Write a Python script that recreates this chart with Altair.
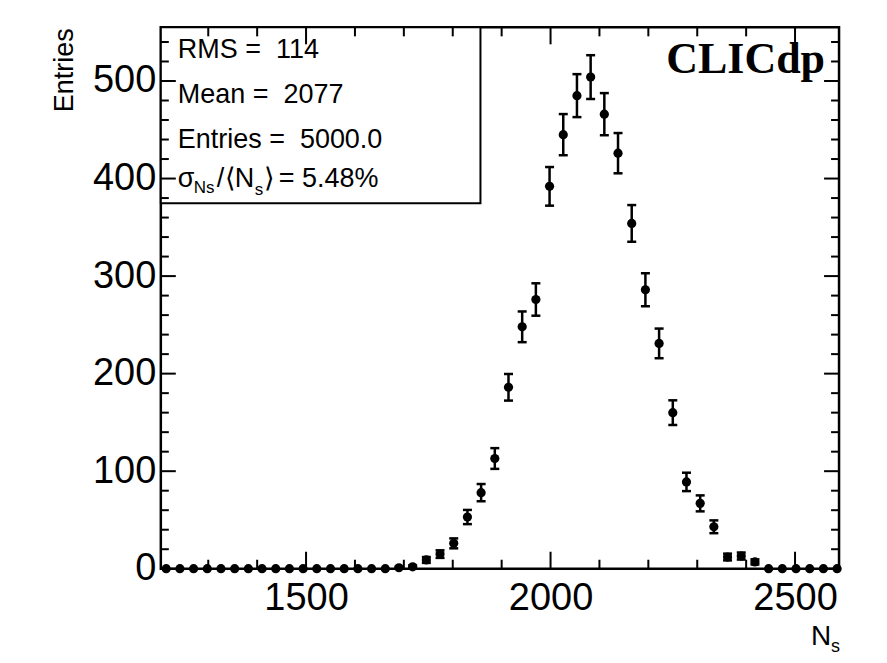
import altair as alt
import pandas as pd

# ---------------- data ----------------
bin_centers = [1214, 1242, 1270, 1298, 1326, 1354, 1382, 1410, 1438, 1466,
               1494, 1522, 1550, 1578, 1606, 1634, 1662, 1690, 1718, 1746,
               1774, 1802, 1830, 1858, 1886, 1914, 1942, 1970, 1998, 2026,
               2054, 2082, 2110, 2138, 2166, 2194, 2222, 2250, 2278, 2306,
               2334, 2362, 2390, 2418, 2446, 2474, 2502, 2530, 2558, 2586]
counts = [0, 0, 0, 0, 0, 0, 0, 0, 0, 0,
          0, 0, 0, 0, 0, 0, 0, 1, 2, 9,
          15, 26, 53, 78, 113, 186, 248, 276, 392, 445,
          485, 504, 466, 426, 354, 286, 231, 160, 89, 67,
          43, 12, 13, 7, 0, 0, 0, 0, 0, 0]

x_label_ticks = [1500, 2000, 2500]
x_minor_ticks = [1300, 1400, 1600, 1700, 1800, 1900, 2100, 2200, 2300, 2400]
y_label_ticks = [0, 100, 200, 300, 400, 500]
y_minor_ticks = [20, 40, 60, 80, 120, 140, 160, 180, 220, 240, 260, 280,
                 320, 340, 360, 380, 420, 440, 460, 480, 520, 540]

stats_lines = ["RMS = \u00a0114", "Mean = \u00a02077", "Entries = \u00a05000.0"]
ratio_parts = ["\u03c3", "Ns", "/", "\u27e8", "N", "s", "\u27e9", "= 5.48%"]
y_title = "Entries"
x_title = ["N", "s"]
brand = "CLICdp"

# ---------------- layout ----------------
W, H = 679, 542
XDOM = [1203, 2590]
YDOM = [0, 555]
FONT = "Liberation Sans"
xs = alt.Scale(domain=XDOM, nice=False, zero=False)
ys = alt.Scale(domain=YDOM, nice=False)

AX = alt.Axis(values=x_label_ticks, ticks=False, domain=False, grid=False, format="d",
              labelFontSize=38, labelFont=FONT, labelColor="black", labelPadding=11,
              title=None)
AY = alt.Axis(values=y_label_ticks, ticks=False, domain=False, grid=False, format="d",
              labelFontSize=38, labelFont=FONT, labelColor="black", labelPadding=5,
              title=None)

df = pd.DataFrame({"x": bin_centers, "n": counts})

base = alt.Chart(df).transform_filter("datum.n > 0").transform_calculate(
    lo="datum.n - sqrt(datum.n)", hi="datum.n + sqrt(datum.n)")

err = base.mark_rule(color="black", strokeWidth=2.5).encode(
    x=alt.X("x:Q", scale=xs, axis=AX),
    y=alt.Y("lo:Q", scale=ys, axis=AY), y2="hi:Q")
cap_lo = base.mark_rule(color="black", strokeWidth=2.5, xOffset=-4.5, x2Offset=4.5).encode(
    x=alt.X("x:Q", scale=xs, axis=AX), x2="x:Q",
    y=alt.Y("lo:Q", scale=ys, axis=AY))
cap_hi = base.mark_rule(color="black", strokeWidth=2.5, xOffset=-4.5, x2Offset=4.5).encode(
    x=alt.X("x:Q", scale=xs, axis=AX), x2="x:Q",
    y=alt.Y("hi:Q", scale=ys, axis=AY))

points = alt.Chart(df).mark_circle(size=85, color="black", opacity=1).encode(
    x=alt.X("x:Q", scale=xs, axis=AX),
    y=alt.Y("n:Q", scale=ys, axis=AY),
)

def xticks(vals, length):
    d = pd.DataFrame({"v": vals})
    bot = alt.Chart(d).mark_rule(color="black", strokeWidth=2).encode(
        x=alt.X("v:Q", scale=xs, axis=AX), y=alt.value(H), y2=alt.value(H - length))
    top = alt.Chart(d).mark_rule(color="black", strokeWidth=2).encode(
        x=alt.X("v:Q", scale=xs, axis=AX), y=alt.value(0), y2=alt.value(length))
    return [bot, top]

def yticks(vals, length):
    d = pd.DataFrame({"v": vals})
    left = alt.Chart(d).mark_rule(color="black", strokeWidth=2).encode(
        y=alt.Y("v:Q", scale=ys, axis=AY), x=alt.value(0), x2=alt.value(length))
    right = alt.Chart(d).mark_rule(color="black", strokeWidth=2).encode(
        y=alt.Y("v:Q", scale=ys, axis=AY), x=alt.value(W), x2=alt.value(W - length))
    return [left, right]

tick_layers = (xticks(x_label_ticks, 17) + xticks(x_minor_ticks, 9)
               + yticks(y_label_ticks, 15) + yticks(y_minor_ticks, 8))

def text(t, x, y, size, align="left", font=FONT, weight="normal", angle=0, color="black"):
    return alt.Chart(pd.DataFrame({"t": [t]})).mark_text(
        align=align, baseline="alphabetic", fontSize=size, font=font,
        fontWeight=weight, angle=angle, color=color).encode(
        text="t:N", x=alt.value(x), y=alt.value(y))

box = alt.Chart(pd.DataFrame({"a": [1]})).mark_rect(
    fill="white", stroke="black", strokeWidth=2).encode(
    x=alt.value(0), x2=alt.value(320), y=alt.value(0), y2=alt.value(176))

SF = 27
stats = [text(stats_lines[i], 17, yb, SF) for i, yb in enumerate([31, 76, 121])]
# sigma_Ns / <N_s> = 5.48%
r = ratio_parts
stats += [
    text(r[0], 17, 160, SF),
    text(r[1], 33, 166, 17),
    text(r[2], 56, 160, SF),
    text(r[3], 64, 160, SF),
    text(r[4], 74, 160, SF),
    text(r[5], 94, 168, 17),
    text(r[6], 103, 160, SF),
    text(r[7], 118, 160, SF),
]

titles = [
    text(y_title, -88, 1, 27, align="right", angle=270),
    text(x_title[0], 651, 618, 28),
    text(x_title[1], 671, 625, 18),
    text(brand, 665, 46, 44, align="right", font="Liberation Serif", weight="bold"),
]

chart = alt.layer(
    box, *stats, err, cap_lo, cap_hi, points, *tick_layers, *titles
).properties(
    width=W, height=H,
    padding={"left": 153, "top": 19, "right": 40, "bottom": 86},
    autosize=alt.AutoSizeParams(type="none"),
).configure_view(stroke="black", strokeWidth=2.5)

chart.save("out.html", embed_options={"renderer": "svg", "actions": False})
